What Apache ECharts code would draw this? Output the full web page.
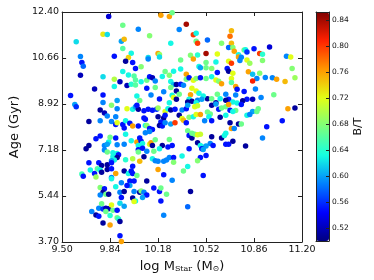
<!DOCTYPE html>
<html><head><meta charset="utf-8">
<script src="https://cdn.jsdelivr.net/npm/echarts@6/dist/echarts.min.js"></script>
<style>html,body{margin:0;padding:0;background:#fff}#c{width:374px;height:280px}</style>
</head><body><div id="c"></div>
<script>
// tick labels
const xTicks = [9.50, 9.84, 10.18, 10.52, 10.86, 11.20];
const yTicks = [3.70, 5.44, 7.18, 8.92, 10.66, 12.40];
const cbTicks = [0.52, 0.56, 0.60, 0.64, 0.68, 0.72, 0.76, 0.80, 0.84];

// galaxies: [log M_star, age (Gyr), B/T], grouped by age band
const bandOldest = [[9.83,12.23,0.53],[10.20,12.28,0.76],[10.26,12.23,0.76],[10.28,12.37,0.67],[10.38,11.94,0.84],[9.93,11.90,0.67],[10.04,11.75,0.59],[9.79,11.56,0.73],[9.82,11.55,0.62],[10.12,11.50,0.68],[10.33,11.74,0.59],[10.43,11.54,0.80],[10.45,11.60,0.63],[9.60,11.27,0.62],[9.92,11.29,0.60],[9.94,11.37,0.75],[10.27,11.22,0.63],[10.45,11.29,0.67],[10.46,11.22,0.80],[10.53,11.34,0.58],[10.63,11.22,0.68],[10.70,11.69,0.75],[10.69,11.48,0.78],[10.70,11.22,0.75],[10.68,11.06,0.58],[10.71,11.06,0.68],[10.72,10.92,0.76],[10.79,10.96,0.67],[10.80,10.97,0.63],[10.81,10.89,0.56],[10.86,11.01,0.55],[10.97,11.08,0.53],[10.90,10.83,0.80],[10.92,10.80,0.64],[9.93,11.02,0.66],[9.99,10.84,0.63],[9.63,10.72,0.59],[9.87,10.73,0.55],[9.97,10.68,0.74],[10.18,10.83,0.76],[10.19,10.79,0.69],[10.11,10.68,0.62],[10.19,10.70,0.62],[10.41,10.76,0.68],[10.46,10.77,0.64],[10.52,10.83,0.84],[10.60,10.81,0.72],[10.75,10.78,0.63],[10.75,10.70,0.76],[10.77,10.69,0.59],[11.09,10.73,0.59],[11.12,10.70,0.72]];
const bandOld = [[9.95,10.54,0.51],[10.00,10.49,0.55],[9.64,10.49,0.55],[9.65,10.35,0.58],[9.63,10.01,0.52],[10.02,10.26,0.55],[10.06,10.33,0.68],[10.11,10.62,0.59],[10.34,10.58,0.67],[10.43,10.62,0.76],[10.52,10.49,0.67],[10.59,10.51,0.63],[10.68,10.54,0.72],[10.70,10.46,0.80],[10.76,10.57,0.59],[10.81,10.58,0.72],[10.83,10.46,0.69],[10.92,10.57,0.68],
[9.79,9.95,0.62],[9.87,9.86,0.70],[9.91,9.76,0.52],[9.93,10.15,0.63],[9.97,10.02,0.63],[10.01,9.98,0.66],[10.02,9.83,0.66],[9.96,9.62,0.52],[9.87,9.58,0.63],[9.99,9.67,0.64],[10.02,9.64,0.66],[10.06,9.76,0.63],[10.10,9.82,0.67],[10.12,9.95,0.55],[10.14,9.91,0.52],[10.16,9.79,0.59],[10.10,9.52,0.55],[10.16,9.54,0.67],[9.73,9.49,0.52],[9.79,9.26,0.55],[9.56,9.24,0.55],[9.89,9.05,0.60],[9.79,8.98,0.59],[10.03,9.22,0.63],[10.05,9.05,0.67],[10.13,9.26,0.59],[10.19,9.11,0.55],[10.22,9.38,0.59],
[10.21,9.96,0.63],[10.23,10.15,0.67],[10.26,10.01,0.68],[10.29,10.16,0.63],[10.34,10.24,0.63],[10.38,10.05,0.76],[10.38,9.86,0.67],[10.27,9.77,0.63],[10.29,9.66,0.61],[10.31,9.66,0.51],[10.34,9.67,0.55],[10.27,9.54,0.67],[10.31,9.41,0.51],[10.33,9.29,0.67],[10.28,9.25,0.63],[10.26,8.97,0.63],[10.29,9.17,0.72],[10.31,9.10,0.51],[10.36,9.63,0.59],
[10.40,9.91,0.55],[10.43,9.82,0.72],[10.45,9.88,0.68],[10.48,9.91,0.55],[10.47,10.34,0.63],[10.48,10.29,0.60],[10.52,10.29,0.67],[10.56,10.26,0.68],[10.60,10.11,0.55],[10.56,9.95,0.63],[10.52,9.88,0.67],[10.59,9.83,0.72],[10.61,9.78,0.68],[10.63,9.69,0.76],[10.67,10.26,0.55],[10.68,10.16,0.51],[10.71,10.08,0.72],[10.70,9.88,0.72],[10.70,9.73,0.66],[10.73,9.58,0.76],[10.74,9.48,0.55],
[10.82,10.14,0.76],[10.85,10.05,0.61],[10.90,10.08,0.68],[10.88,9.88,0.59],[10.85,9.79,0.81],[10.94,9.92,0.59],[10.99,9.91,0.59],[11.02,9.86,0.76],[11.08,9.77,0.75],[11.13,10.26,0.68],[11.15,9.91,0.69],[10.87,9.49,0.59],[10.79,9.39,0.55],[11.00,9.27,0.67],[10.91,9.17,0.59],[10.85,9.10,0.52],[10.81,9.10,0.55],[10.78,9.04,0.51],[10.73,9.26,0.59],[10.66,9.29,0.59],[10.68,9.10,0.55],[10.60,9.29,0.67],[10.62,9.12,0.63],[10.66,9.06,0.51],
[10.53,9.12,0.51],[10.50,9.22,0.63],[10.41,9.27,0.76],[10.42,9.52,0.72],[10.45,9.41,0.72],[10.47,9.33,0.63],[10.40,9.10,0.63],[10.39,9.00,0.51],[10.42,9.02,0.51],[10.46,9.06,0.59],[10.49,9.10,0.60],[10.45,8.97,0.63],[10.56,9.12,0.67],[10.59,8.97,0.51],[10.71,9.00,0.63],[10.74,8.96,0.63]];
const bandMid = [[9.59,8.90,0.60],[9.60,8.82,0.56],[9.77,8.69,0.51],[9.80,8.58,0.52],[9.82,8.47,0.59],[9.85,8.87,0.68],[9.89,8.74,0.59],[9.96,8.74,0.72],[10.00,8.72,0.63],[10.02,8.82,0.60],[10.04,8.72,0.51],[10.03,8.87,0.55],[10.08,8.66,0.55],[10.11,8.72,0.55],[10.14,8.68,0.55],[10.17,8.72,0.56],[10.18,8.77,0.69],[10.23,8.64,0.72],[10.25,8.74,0.63],[10.27,8.69,0.51],[10.30,8.72,0.55],[10.35,8.69,0.59],[10.38,8.74,0.55],[10.39,8.87,0.60],[10.44,8.82,0.72],[10.46,8.85,0.71],[10.56,8.87,0.51],[10.59,8.92,0.60],[10.61,8.72,0.55],[10.63,8.77,0.67],[10.66,8.82,0.67],[10.68,8.90,0.76],[10.69,8.68,0.55],[10.73,8.67,0.67],[10.77,8.90,0.55],[10.81,8.49,0.63],[10.85,8.64,0.60],[10.88,8.64,0.67],[10.89,8.74,0.67],[11.10,8.74,0.76],[11.15,8.77,0.51],
[9.69,8.26,0.51],[9.77,8.29,0.59],[9.85,8.26,0.59],[9.88,8.44,0.59],[9.88,8.14,0.55],[9.89,8.21,0.72],[9.93,8.14,0.55],[9.95,8.29,0.63],[9.94,8.01,0.55],[9.95,7.78,0.63],[9.98,8.19,0.55],[10.00,8.09,0.76],[10.04,8.09,0.55],[10.08,8.39,0.55],[10.09,8.34,0.55],[10.09,8.11,0.63],[10.10,8.11,0.68],[10.12,7.99,0.55],[10.14,7.96,0.55],[10.18,8.44,0.51],[10.22,8.39,0.51],[10.23,8.49,0.55],[10.20,8.24,0.55],[10.19,8.11,0.51],[10.21,8.09,0.55],[10.23,8.21,0.59],[10.27,8.16,0.60],[10.30,8.21,0.80],[10.33,8.49,0.51],[10.35,8.37,0.72],[10.36,8.31,0.75],[10.38,8.21,0.55],[10.40,8.42,0.68],[10.43,8.44,0.63],[10.45,8.52,0.72],[10.48,8.52,0.76],[10.53,8.62,0.67],[10.55,8.54,0.67],[10.54,8.44,0.63],[10.51,8.29,0.59],[10.56,8.29,0.55],[10.62,8.42,0.51],[10.66,8.49,0.63],[10.71,8.64,0.63],[10.69,8.21,0.51],[10.75,8.16,0.51],[10.77,8.16,0.67],[10.83,8.52,0.59],[10.95,8.06,0.55],[11.06,8.29,0.55],
[9.74,7.61,0.55],[9.77,7.71,0.55],[9.69,7.35,0.51],[9.67,7.23,0.51],[9.80,7.35,0.59],[9.83,7.48,0.63],[9.82,7.40,0.60],[9.84,7.66,0.67],[9.88,7.63,0.55],[9.89,7.38,0.59],[9.94,7.40,0.59],[9.99,7.53,0.63],[10.03,7.48,0.76],[10.05,7.63,0.55],[10.06,7.51,0.55],[10.07,7.43,0.63],[10.04,7.35,0.63],[10.07,7.25,0.55],[10.09,7.83,0.59],[10.12,7.88,0.59],[10.12,7.40,0.72],[10.13,7.45,0.76],[10.14,7.35,0.51],[10.16,7.57,0.67],[10.21,7.35,0.51],[10.26,7.58,0.67],[10.25,7.29,0.55],[10.28,7.35,0.55],[10.39,7.91,0.67],[10.40,7.73,0.55],[10.42,7.63,0.51],[10.42,7.81,0.67],[10.44,7.78,0.67],[10.46,7.76,0.72],[10.48,7.78,0.71],[10.46,7.45,0.51],[10.48,7.35,0.63],[10.50,7.28,0.63],[10.52,7.33,0.60],[10.56,7.68,0.51],[10.55,7.43,0.59],[10.57,7.35,0.55],[10.63,7.63,0.51],[10.65,7.73,0.63],[10.66,7.81,0.63],[10.70,7.99,0.76],[10.72,7.99,0.59],[10.66,7.40,0.55],[10.68,7.40,0.55],[10.71,7.51,0.51],[10.80,7.33,0.51],[10.92,7.63,0.59]];
const bandYoung = [[9.80,7.18,0.59],[9.82,7.10,0.67],[9.86,7.08,0.63],[9.89,7.05,0.63],[9.90,7.00,0.55],[9.86,6.92,0.63],[9.89,6.90,0.51],[9.87,6.80,0.63],[9.85,6.77,0.60],[9.95,6.81,0.64],[10.00,6.85,0.70],[10.04,7.19,0.55],[10.04,7.10,0.67],[10.08,6.92,0.51],[10.10,7.13,0.59],[10.15,7.13,0.67],[10.14,6.85,0.63],[10.16,6.77,0.59],[10.18,6.75,0.59],[10.19,7.23,0.63],[10.22,6.75,0.59],[10.24,6.80,0.59],[10.26,6.90,0.59],[10.29,6.90,0.55],[10.29,6.72,0.68],[10.35,6.95,0.63],[10.40,7.23,0.55],[10.49,7.23,0.55],[10.50,7.20,0.60],[10.52,6.97,0.55],[10.48,6.90,0.55],[10.46,6.77,0.68],[10.39,6.56,0.63],[10.36,6.39,0.67],[10.50,6.22,0.55],
[9.69,6.70,0.55],[9.76,6.70,0.55],[9.78,6.59,0.51],[9.82,6.62,0.51],[9.85,6.70,0.55],[9.70,6.42,0.63],[9.64,6.27,0.65],[9.65,6.19,0.55],[9.73,6.29,0.55],[9.74,6.16,0.69],[9.75,6.47,0.66],[9.77,6.42,0.63],[9.78,6.34,0.51],[9.82,6.44,0.51],[9.85,6.47,0.55],[9.88,6.29,0.76],[9.85,6.14,0.59],[9.85,6.09,0.63],[9.94,6.39,0.51],[9.97,6.29,0.63],[9.99,6.39,0.55],[10.00,6.57,0.55],[10.00,6.29,0.55],[10.03,6.22,0.67],[10.05,6.75,0.75],[10.18,6.44,0.76],[10.22,6.24,0.55],[10.28,6.04,0.59],[10.10,6.01,0.51],[10.01,6.01,0.55],[9.98,6.01,0.55],
[9.92,5.94,0.59],[9.98,5.84,0.60],[9.96,5.84,0.55],[9.77,5.76,0.68],[9.80,5.71,0.55],[9.79,5.58,0.51],[9.77,5.48,0.59],[9.81,5.51,0.67],[9.83,5.51,0.51],[9.88,5.79,0.63],[9.91,5.58,0.59],[9.94,5.61,0.51],[10.01,5.61,0.59],[10.05,5.58,0.51],[10.06,5.63,0.68],[10.08,5.58,0.59],[10.10,5.48,0.55],[10.15,5.74,0.55],[10.19,5.61,0.55],[10.20,5.74,0.67],[10.24,5.51,0.67],[10.41,5.61,0.51]];
const bandYoungest = [[9.92,5.38,0.55],[10.00,5.36,0.51],[10.02,5.25,0.63],[10.01,5.23,0.72],[10.07,5.38,0.60],[10.20,5.25,0.55],[9.78,5.15,0.67],[9.71,4.85,0.59],[9.76,4.98,0.59],[9.79,4.95,0.56],[9.81,4.98,0.52],[9.83,4.96,0.52],[9.86,4.90,0.67],[9.85,5.10,0.72],[9.89,4.90,0.55],[9.91,5.17,0.62],[9.94,5.05,0.60],[9.81,4.85,0.67],[9.74,4.72,0.51],[9.76,4.67,0.55],[9.84,4.70,0.64],[9.89,4.62,0.67],[9.90,4.57,0.64],[9.91,4.48,0.51],[9.79,4.42,0.51],[9.84,4.34,0.76],[9.91,3.94,0.55],[9.92,3.72,0.76],[10.39,5.03,0.58],[10.22,4.71,0.59]];

const points = [].concat(bandOldest, bandOld, bandMid, bandYoung, bandYoungest);
const jet = ['#000080','#0000ff','#0080ff','#15ffe2','#7bff7b','#e2ff15','#ff9700','#ff2100','#800000'];
const FONT = 'DejaVu Sans';
const LINE = '#222';

const chart = echarts.init(document.getElementById('c'), null, {renderer: 'canvas'});
const fmt2 = v => Number(v).toFixed(2);
chart.setOption({
  animation: false,
  textStyle: {fontFamily: FONT},
  grid: [
    {left: 52, top: 12, width: 250, height: 230},
    {left: 316, top: 12, width: 13, height: 229}
  ],
  xAxis: [
    {gridIndex: 0, type: 'value', min: 9.5, max: 11.2, position: 'bottom',
     name: '{a|log M}{s|Star}{a| (M}{s|⊙}{a|)}', nameLocation: 'middle', nameGap: 11,
     nameTextStyle: {rich: {
       a: {fontSize: 13, fontFamily: FONT, color: '#111', lineHeight: 16, verticalAlign: 'bottom'},
       s: {fontSize: 8, fontFamily: 'DejaVu Serif', color: '#111', lineHeight: 8, verticalAlign: 'bottom'}
     }},
     axisLine: {onZero: false, lineStyle: {color: LINE, width: 1}},
     axisTick: {inside: true, length: 4, customValues: xTicks, lineStyle: {color: LINE}},
     axisLabel: {customValues: xTicks, formatter: fmt2, fontSize: 9.5, color: '#111', margin: 3, fontFamily: FONT},
     splitLine: {show: false}},
    {gridIndex: 0, type: 'value', min: 9.5, max: 11.2, position: 'top',
     axisLine: {onZero: false, lineStyle: {color: LINE, width: 1}},
     axisTick: {inside: true, length: 4, customValues: xTicks, lineStyle: {color: LINE}},
     axisLabel: {show: false}, splitLine: {show: false}},
    {gridIndex: 1, type: 'value', min: 0, max: 1, position: 'bottom', z: 10,
     axisLine: {onZero: false, lineStyle: {color: LINE, width: 1}},
     axisTick: {show: false}, axisLabel: {show: false}, splitLine: {show: false}},
    {gridIndex: 1, type: 'value', min: 0, max: 1, position: 'top', z: 10,
     axisLine: {onZero: false, lineStyle: {color: LINE, width: 1}},
     axisTick: {show: false}, axisLabel: {show: false}, splitLine: {show: false}}
  ],
  yAxis: [
    {gridIndex: 0, type: 'value', min: 3.7, max: 12.4, position: 'left',
     name: 'Age (Gyr)', nameLocation: 'middle', nameGap: 29,
     nameTextStyle: {fontSize: 13, color: '#111', fontFamily: FONT},
     axisLine: {onZero: false, lineStyle: {color: LINE, width: 1}},
     axisTick: {inside: true, length: 4, customValues: yTicks, lineStyle: {color: LINE}},
     axisLabel: {customValues: yTicks, formatter: fmt2, fontSize: 9.5, color: '#111', margin: 3, fontFamily: FONT},
     splitLine: {show: false}},
    {gridIndex: 0, type: 'value', min: 3.7, max: 12.4, position: 'right',
     axisLine: {onZero: false, lineStyle: {color: LINE, width: 1}},
     axisTick: {inside: true, length: 4, customValues: yTicks, lineStyle: {color: LINE}},
     axisLabel: {show: false}, splitLine: {show: false}},
    {gridIndex: 1, type: 'value', min: 0.50, max: 0.853, position: 'right', z: 10,
     name: 'B/T', nameLocation: 'middle', nameGap: 20,
     nameTextStyle: {fontSize: 11, color: '#111', fontFamily: FONT},
     axisLine: {onZero: false, lineStyle: {color: LINE, width: 1}},
     axisTick: {inside: true, length: 3, customValues: cbTicks, lineStyle: {color: LINE}},
     axisLabel: {customValues: cbTicks, formatter: fmt2, fontSize: 7.5, color: '#111', margin: 3, fontFamily: FONT},
     splitLine: {show: false}},
    {gridIndex: 1, type: 'value', min: 0.50, max: 0.853, position: 'left', z: 10,
     axisLine: {onZero: false, lineStyle: {color: LINE, width: 1}},
     axisTick: {show: false}, axisLabel: {show: false}, splitLine: {show: false}}
  ],
  visualMap: {
    type: 'continuous', min: 0.50, max: 0.853, dimension: 2, seriesIndex: 0,
    inRange: {color: jet}, left: 316, top: 12, itemWidth: 13, itemHeight: 229,
    calculable: false, padding: 0, text: null, hoverLink: false, showLabel: false
  },
  series: [{
    type: 'scatter', xAxisIndex: 0, yAxisIndex: 0, data: points,
    symbolSize: 5.5, itemStyle: {opacity: 1}
  }]
});
</script>
</body></html>
